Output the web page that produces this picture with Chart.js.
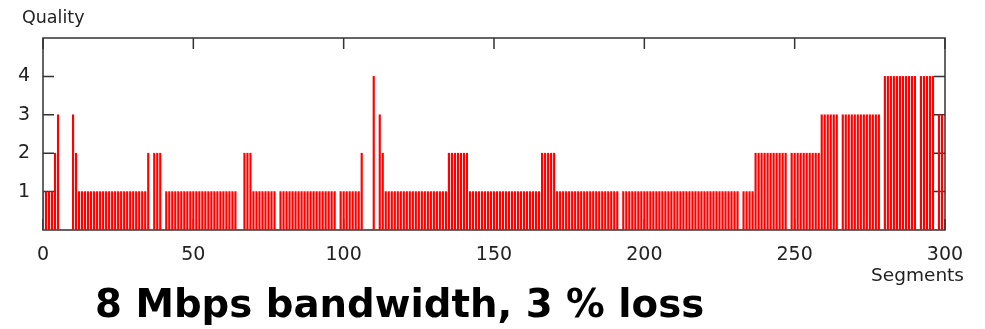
<!DOCTYPE html>
<html>
<head>
<meta charset="utf-8">
<script src="https://cdn.jsdelivr.net/npm/chart.js@4.4.1/dist/chart.umd.min.js"></script>
<style>
  html, body { margin: 0; padding: 0; background: #ffffff; }
  #wrap { position: relative; width: 985px; height: 329px; overflow: hidden; }
  #wrap canvas { position: absolute; left: 0; top: 0; }
  .lbl { position: absolute; white-space: nowrap; font-family: "DejaVu Sans", sans-serif; color: #222; line-height: normal; }
  #ylab { left: 22px; top: 7px; font-size: 17.5px; }
  #xlab { right: 21px; top: 264px; font-size: 18.5px; }
  #title { left: 95px; top: 281px; font-size: 38.7px; font-weight: bold; color: #000; }
</style>
</head>
<body>
<div id="wrap">
  <canvas id="c" width="985" height="329"></canvas>
  <div class="lbl" id="ylab">Quality</div>
  <div class="lbl" id="xlab">Segments</div>
  <div class="lbl" id="title">8 Mbps bandwidth, 3 % loss</div>
</div>
<script>
// Quality level per segment (segment index 0..299)
const quality = [
  1,1,1,1,2,3,0,0,0,0,3,2,1,1,1,1,1,1,1,1,1,1,1,1,1,
  1,1,1,1,1,1,1,1,1,1,2,0,2,2,2,0,1,1,1,1,1,1,1,1,1,
  1,1,1,1,1,1,1,1,1,1,1,1,1,1,1,0,0,2,2,2,1,1,1,1,1,
  1,1,1,0,1,1,1,1,1,1,1,1,1,1,1,1,1,1,1,1,1,1,1,0,1,
  1,1,1,1,1,1,2,0,0,0,4,0,3,2,1,1,1,1,1,1,1,1,1,1,1,
  1,1,1,1,1,1,1,1,1,1,2,2,2,2,2,2,2,1,1,1,1,1,1,1,1,
  1,1,1,1,1,1,1,1,1,1,1,1,1,1,1,1,2,2,2,2,2,1,1,1,1,
  1,1,1,1,1,1,1,1,1,1,1,1,1,1,1,1,1,0,1,1,1,1,1,1,1,
  1,1,1,1,1,1,1,1,1,1,1,1,1,1,1,1,1,1,1,1,1,1,1,1,1,
  1,1,1,1,1,1,1,0,1,1,1,1,2,2,2,2,2,2,2,2,2,2,2,0,2,
  2,2,2,2,2,2,2,2,2,3,3,3,3,3,3,0,3,3,3,3,3,3,3,3,3,
  3,3,3,3,0,4,4,4,4,4,4,4,4,4,4,4,0,4,4,4,4,4,0,3,3
];
const xTicks = [0, 50, 100, 150, 200, 250, 300];
const yTicks = [1, 2, 3, 4];

const points = quality.map((q, i) => ({ x: i, y: q }));

const framePlugin = {
  id: 'gnuplotFrame',
  beforeDatasetsDraw(chart) {
    const { ctx, chartArea: { left, right, top, bottom }, scales: { x, y } } = chart;
    const tl = 11;
    ctx.save();
    ctx.strokeStyle = '#333';
    ctx.lineWidth = 1.5;
    ctx.strokeRect(left, top, right - left, bottom - top);
    ctx.beginPath();
    yTicks.forEach(v => {
      const py = y.getPixelForValue(v);
      ctx.moveTo(left, py); ctx.lineTo(left + tl, py);
      ctx.moveTo(right, py); ctx.lineTo(right - tl, py);
    });
    xTicks.forEach(v => {
      const px = x.getPixelForValue(v);
      ctx.moveTo(px, top); ctx.lineTo(px, top + tl);
      ctx.moveTo(px, bottom); ctx.lineTo(px, bottom - tl);
    });
    ctx.stroke();
    ctx.restore();
  }
};

new Chart(document.getElementById('c'), {
  type: 'bar',
  data: {
    datasets: [{
      data: points,
      backgroundColor: '#ff0000',
      borderWidth: 0,
      barThickness: 1.5
    }]
  },
  options: {
    responsive: false,
    animation: false,
    devicePixelRatio: 1,
    layout: { padding: { top: 38, right: 40, left: 0, bottom: 0 } },
    plugins: { legend: { display: false }, tooltip: { enabled: false }, title: { display: false } },
    scales: {
      x: {
        type: 'linear',
        min: 0, max: 300,
        offset: false,
        grid: { display: false, drawTicks: false },
        border: { display: false },
        afterBuildTicks: s => { s.ticks = xTicks.map(v => ({ value: v })); },
        afterFit: s => { s.height = 99; },
        ticks: {
          autoSkip: false, maxRotation: 0, padding: 14,
          color: '#222',
          font: { family: 'DejaVu Sans', size: 19 }
        }
      },
      y: {
        type: 'linear',
        min: 0, max: 5,
        grid: { display: false, drawTicks: false },
        border: { display: false },
        afterBuildTicks: s => { s.ticks = yTicks.map(v => ({ value: v })); },
        afterFit: s => { s.width = 43; },
        ticks: {
          padding: 13,
          color: '#222',
          font: { family: 'DejaVu Sans', size: 19 }
        }
      }
    }
  },
  plugins: [framePlugin]
});
</script>
</body>
</html>
